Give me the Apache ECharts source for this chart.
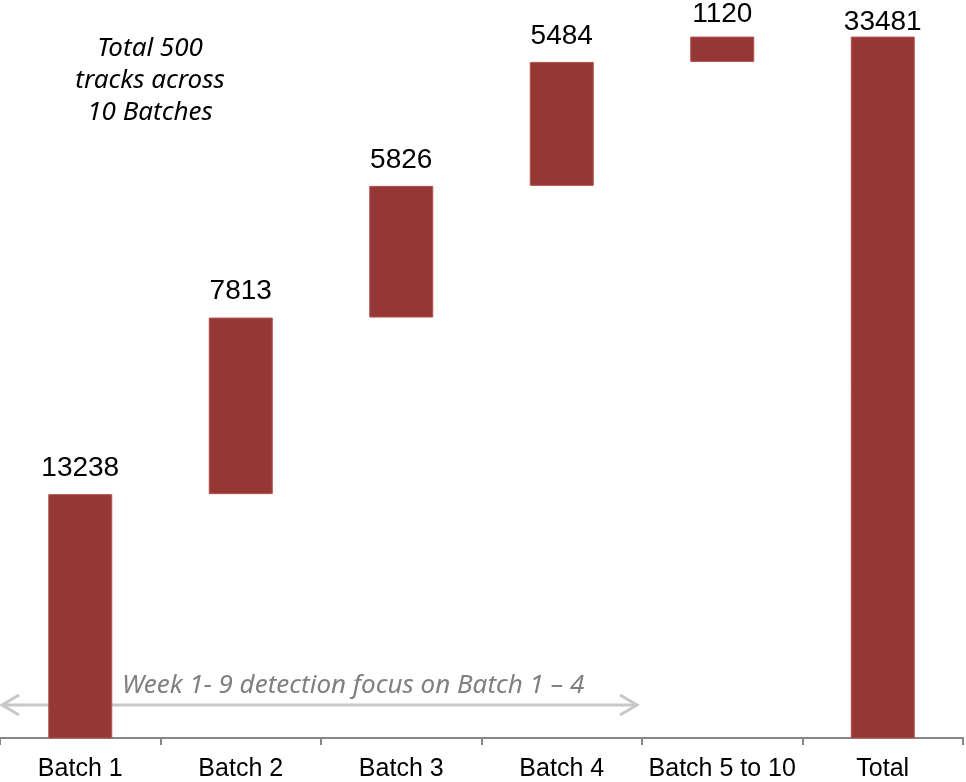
<!DOCTYPE html>
<html>
<head>
<meta charset="utf-8">
<script src="https://cdn.jsdelivr.net/npm/echarts@6/dist/echarts.min.js"></script>
<style>
  html, body { margin: 0; padding: 0; background: #fff; }
  #chart { width: 966px; height: 782px; }
</style>
</head>
<body>
<div id="chart"></div>
<script>
  var categories = ['Batch 1', 'Batch 2', 'Batch 3', 'Batch 4', 'Batch 5 to 10', 'Total'];
  var tracks = [13238, 7813, 5826, 5484, 1120, 33481];
  var isTotal = [false, false, false, false, false, true];

  // invisible offsets for the waterfall steps
  var offsets = [];
  var running = 0;
  for (var i = 0; i < tracks.length; i++) {
    if (isTotal[i]) {
      offsets.push(0);
    } else {
      offsets.push(running);
      running += tracks[i];
    }
  }

  // labels near the top edge sit a bit closer to their bars
  var barData = tracks.map(function (v, i) {
    if (i === 5) return { value: v, label: { distance: 0 } };
    if (i === 4) return { value: v, label: { distance: 8 } };
    return v;
  });

  var chart = echarts.init(document.getElementById('chart'));
  chart.setOption({
    animation: false,
    grid: { left: -3, right: 3, top: 0, bottom: 43 },
    xAxis: {
      type: 'category',
      data: categories,
      axisLine: { lineStyle: { color: '#868686', width: 2 } },
      axisTick: { show: true, length: 7, lineStyle: { color: '#868686', width: 2 } },
      axisLabel: {
        interval: 0,
        color: '#000',
        fontFamily: 'Liberation Sans, Arial, sans-serif',
        fontSize: 25,
        margin: 19
      }
    },
    yAxis: {
      type: 'value',
      min: 2450,
      max: 35100,
      show: false,
      splitLine: { show: false }
    },
    series: [
      {
        name: 'offset',
        type: 'bar',
        stack: 'wf',
        barWidth: 64,
        silent: true,
        itemStyle: { color: 'transparent' },
        data: offsets
      },
      {
        name: 'tracks',
        type: 'bar',
        stack: 'wf',
        barWidth: 64,
        itemStyle: { color: '#953735', borderColor: '#b5524f', borderWidth: 1 },
        label: {
          show: true,
          position: 'top',
          distance: 12,
          color: '#000',
          fontFamily: 'Liberation Sans, Arial, sans-serif',
          fontSize: 28
        },
        data: barData
      }
    ],
    graphic: [
      {
        type: 'text',
        x: 150,
        y: 33,
        style: {
          text: 'Total 500\ntracks across\n10 Batches',
          fill: '#000',
          font: 'italic 26px "Noto Sans", "Open Sans", sans-serif',
          lineHeight: 32,
          align: 'center'
        }
      },
      {
        type: 'text',
        x: 122,
        y: 673,
        style: {
          text: 'Week 1- 9 detection focus on Batch 1 \u2013 4',
          fill: '#808080',
          font: 'italic 26px "Noto Sans", "Open Sans", sans-serif'
        }
      },
      {
        type: 'line',
        shape: { x1: 2, y1: 705, x2: 637, y2: 705 },
        style: { stroke: '#c8c8c8', lineWidth: 3 }
      },
      {
        type: 'polyline',
        shape: { points: [[19, 695], [2, 705], [19, 715]] },
        style: { stroke: '#c8c8c8', lineWidth: 3, fill: null }
      },
      {
        type: 'polyline',
        shape: { points: [[620, 695], [637, 705], [620, 715]] },
        style: { stroke: '#c8c8c8', lineWidth: 3, fill: null }
      }
    ]
  });
</script>
</body>
</html>
